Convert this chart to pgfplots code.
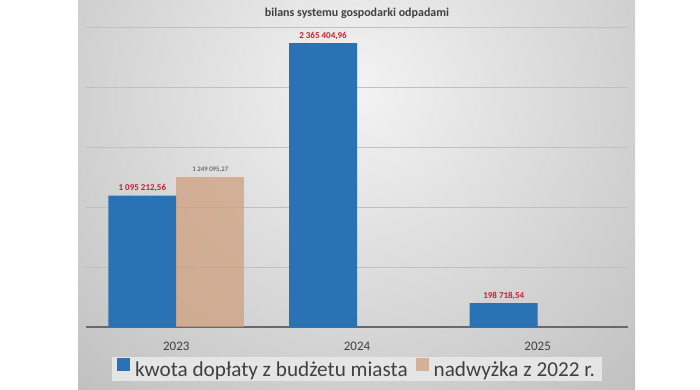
\documentclass[border=0pt]{standalone}
\usepackage{pgfplots}
\pgfplotsset{compat=1.18}
\usepackage{fontspec}
\setmainfont{Carlito}
\definecolor{barblue}{RGB}{41,114,180}
\definecolor{bartan}{RGB}{206,160,126}
\definecolor{lblred}{RGB}{200,32,45}
\definecolor{txt}{RGB}{64,64,64}
\definecolor{gridc}{RGB}{192,192,192}
\definecolor{basec}{RGB}{105,105,105}
\begin{document}
\begin{tikzpicture}[x=1pt,y=1pt]
\useasboundingbox (0,0) rectangle (700,390);
\fill[white] (0,0) rectangle (700,390);
\begin{scope}
\clip (78,0) rectangle (635,390);
\shade[inner color={rgb,255:red,243;green,243;blue,243}, outer color={rgb,255:red,190;green,190;blue,190}] (357,300) circle (430);
\end{scope}
\node[font=\bfseries\fontsize{12}{14}\selectfont, text=txt] at (357,377) {bilans systemu gospodarki odpadami};
\begin{axis}[
  at={(86pt,63pt)}, anchor=south west,
  scale only axis, width=542pt, height=300pt,
  xmin=-0.5, xmax=2.5, ymin=0, ymax=2500000,
  ybar, bar width=0.376,
  axis line style={draw=none},
  xtick={0,1,2}, xticklabels={2023,2024,2025},
  ytick={0,500000,1000000,1500000,2000000,2500000}, yticklabels={},
  major tick length=0pt,
  ymajorgrids, grid style={gridc, line width=0.8pt},
  extra y ticks={0}, extra y tick labels={},
  extra y tick style={grid style={basec, line width=1.2pt}},
  scaled y ticks=false,
  xticklabel style={font=\fontsize{13}{15}\selectfont, text=txt, yshift=-12pt},
  point meta=explicit symbolic,
  nodes near coords,
  legend columns=2,
  legend style={at={(0.5,-0.1)}, anchor=north, draw=none,
    fill={rgb,255:red,229;green,229;blue,229},
    font=\fontsize{21.2}{24}\selectfont, text=txt,
    inner xsep=5pt, inner ysep=1pt,
    /tikz/every even column/.append style={column sep=6pt}},
  legend image code/.code={\fill[#1,draw=none] (0pt,-1pt) rectangle (13pt,12pt); \path (16pt,0pt);},
]
\addplot[fill=barblue, draw=none, bar shift=-0.188,
  every node near coord/.append style={font=\bfseries\fontsize{9}{11}\selectfont, text=lblred, yshift=0pt}]
  coordinates {(0,1095212.56) [1 095 212,56] (1,2365404.96) [2 365 404,96] (2,198718.54) [198 718,54]};
\addlegendentry{kwota dopłaty z budżetu miasta}
\addplot[fill=bartan, fill opacity=0.75, draw=none, bar shift=0.188,
  every node near coord/.append style={font=\fontsize{6.8}{8}\selectfont, text=txt, text opacity=1, yshift=1pt}]
  coordinates {(0,1249095.27) [1 249 095,27]};
\addlegendentry{nadwyżka z 2022 r.}
\end{axis}
\end{tikzpicture}
\end{document}
